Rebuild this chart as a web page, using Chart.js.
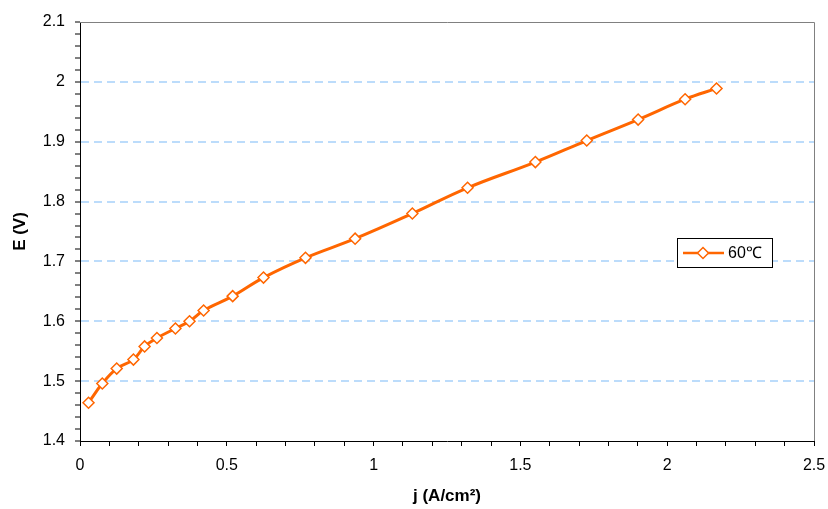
<!DOCTYPE html>
<html lang="en">
<head>
    <meta charset="UTF-8">
    <title>E vs j</title>
    <script src="https://cdn.jsdelivr.net/npm/chart.js@4.4.1/dist/chart.umd.min.js"></script>
    <style>
        body { margin: 0; background: #fff; }
        #chart { display: block; }
    </style>
</head>
<body>
    <canvas id="chart" width="828" height="509"></canvas>

    <script>
        // data
        var currentDensity = [0.029, 0.076, 0.125, 0.182, 0.220, 0.262, 0.325, 0.373, 0.421, 0.520,
                              0.625, 0.768, 0.937, 1.132, 1.320, 1.551, 1.726, 1.901, 2.061, 2.168];
        var voltage = [1.464, 1.496, 1.521, 1.536, 1.558, 1.572, 1.588, 1.600, 1.618, 1.642,
                       1.673, 1.706, 1.738, 1.780, 1.823, 1.866, 1.902, 1.937, 1.971, 1.989];
        var seriesLabel = '60℃';
        var xTitle = 'j (A/cm²)';
        var yTitle = 'E (V)';

        var orange = '#ff6600';
        var gridBlue = '#bcdcfb';
        var tickFont = { family: 'Arial, "Liberation Sans", sans-serif', size: 16 };
        var titleFont = { family: 'Arial, "Liberation Sans", sans-serif', size: 17, weight: 'bold' };

        var points = currentDensity.map(function(x, i) { return { x: x, y: voltage[i] }; });

        function isMultiple(v, step) {
            var r = v / step;
            return Math.abs(r - Math.round(r)) < 1e-6;
        }

        // gray frame on top and right + legend box inside the plot
        var framePlugin = {
            id: 'frame',
            beforeDatasetsDraw: function(chart) {
                var a = chart.chartArea, ctx = chart.ctx;
                ctx.save();
                ctx.strokeStyle = '#808080';
                ctx.lineWidth = 1;
                ctx.beginPath();
                ctx.moveTo(a.left, a.top + 0.5);
                ctx.lineTo(a.right + 0.5, a.top + 0.5);
                ctx.lineTo(a.right + 0.5, a.bottom);
                ctx.stroke();
                ctx.restore();
            },
            afterDraw: function(chart) {
                var a = chart.chartArea, ctx = chart.ctx;
                var bx = a.right - 137, by = a.top + 216, bw = 95, bh = 29;
                ctx.save();
                ctx.fillStyle = '#fff';
                ctx.fillRect(bx, by, bw, bh);
                ctx.strokeStyle = '#000';
                ctx.lineWidth = 1;
                ctx.strokeRect(bx + 0.5, by + 0.5, bw, bh);
                var ly = by + bh / 2 + 0.5;
                ctx.strokeStyle = orange;
                ctx.lineWidth = 2.5;
                ctx.beginPath();
                ctx.moveTo(bx + 6, ly);
                ctx.lineTo(bx + 47, ly);
                ctx.stroke();
                ctx.lineWidth = 1.5;
                ctx.fillStyle = '#fff';
                ctx.beginPath();
                ctx.moveTo(bx + 26, ly - 5.5);
                ctx.lineTo(bx + 31.5, ly);
                ctx.lineTo(bx + 26, ly + 5.5);
                ctx.lineTo(bx + 20.5, ly);
                ctx.closePath();
                ctx.fill();
                ctx.stroke();
                ctx.fillStyle = '#000';
                ctx.font = '16px Arial, "Liberation Sans", sans-serif';
                ctx.textBaseline = 'middle';
                ctx.fillText(seriesLabel, bx + 51, ly + 1);
                ctx.restore();
            }
        };

        new Chart(document.getElementById('chart'), {
            type: 'line',
            data: {
                datasets: [{
                    label: seriesLabel,
                    data: points,
                    borderColor: orange,
                    borderWidth: 3,
                    tension: 0.4,
                    fill: false,
                    pointStyle: 'rectRot',
                    pointRadius: 5.5,
                    pointBorderWidth: 1.5,
                    pointBackgroundColor: '#fff',
                    pointBorderColor: orange
                }]
            },
            options: {
                responsive: false,
                animation: false,
                devicePixelRatio: 1,
                layout: { padding: { top: 22, right: 14, left: 0, bottom: 0 } },
                plugins: {
                    legend: { display: false },
                    tooltip: { enabled: false }
                },
                scales: {
                    x: {
                        type: 'linear',
                        min: 0,
                        max: 2.5,
                        afterFit: function(scale) {
                            scale.height = 68;
                            scale.paddingLeft = 0;
                            scale.paddingRight = 0;
                        },
                        ticks: {
                            stepSize: 0.1,
                            maxTicksLimit: 100,
                            autoSkip: false,
                            maxRotation: 0,
                            padding: 10,
                            color: '#000',
                            font: tickFont,
                            callback: function(v) {
                                return isMultiple(v, 0.5) ? String(Math.round(v * 10) / 10) : '';
                            }
                        },
                        grid: {
                            drawOnChartArea: false,
                            tickLength: 5,
                            tickColor: '#000'
                        },
                        border: { color: '#000', width: 1 },
                        title: {
                            display: true,
                            text: xTitle,
                            color: '#000',
                            font: titleFont,
                            padding: { top: 0, bottom: 2 }
                        }
                    },
                    y: {
                        type: 'linear',
                        min: 1.4,
                        max: 2.1,
                        afterFit: function(scale) { scale.width = 80; },
                        ticks: {
                            stepSize: 0.02,
                            maxTicksLimit: 100,
                            autoSkip: false,
                            padding: 10,
                            color: '#000',
                            font: tickFont,
                            callback: function(v) {
                                return isMultiple(v, 0.1) ? String(Math.round(v * 10) / 10) : '';
                            }
                        },
                        grid: {
                            tickLength: 5,
                            lineWidth: 2,
                            tickWidth: 1,
                            tickColor: '#000',
                            color: function(c) {
                                var v = c.tick ? c.tick.value : null;
                                if (v === null) return 'rgba(0,0,0,0)';
                                if (isMultiple(v, 0.1) && v > 1.45 && v < 2.05) return gridBlue;
                                return 'rgba(0,0,0,0)';
                            }
                        },
                        border: { color: '#000', width: 1, dash: [8, 5] },
                        title: {
                            display: true,
                            text: yTitle,
                            color: '#000',
                            font: titleFont,
                            padding: { top: 10, bottom: 0 }
                        }
                    }
                }
            },
            plugins: [framePlugin]
        });
    </script>
</body>
</html>
